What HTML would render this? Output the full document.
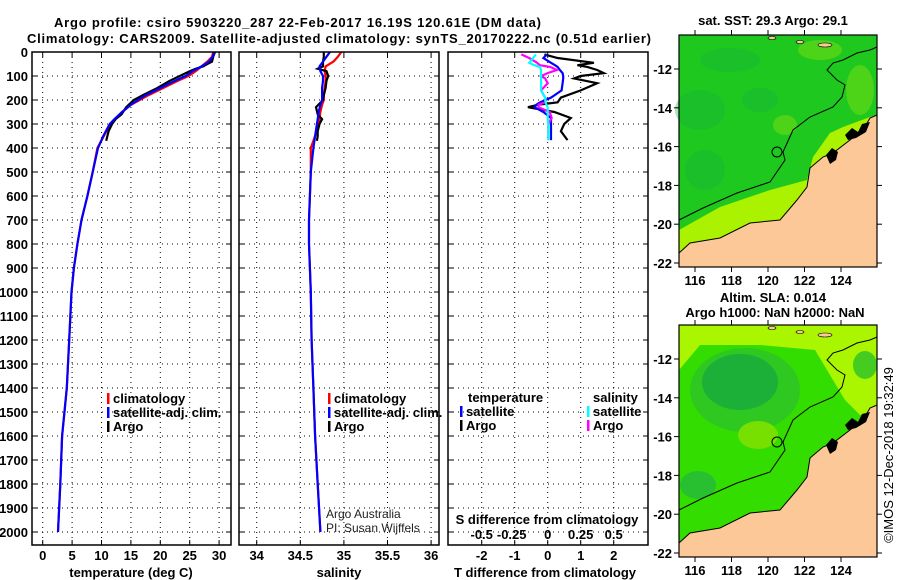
<!DOCTYPE html>
<html><head><meta charset="utf-8"><style>
html,body{margin:0;padding:0;background:#fff}
svg{display:block;font-family:"Liberation Sans",Arial,sans-serif}
.b{font-weight:bold;font-size:13px}
</style></head><body>
<svg id="c" width="900" height="580" viewBox="0 0 900 580">
<rect width="900" height="580" fill="#fff"/>
<text class="b" x="54" y="27" font-size="14" textLength="487">Argo profile: csiro 5903220_287 22-Feb-2017 16.19S 120.61E (DM data)</text>
<text class="b" x="27" y="43" font-size="14" textLength="624">Climatology: CARS2009. Satellite-adjusted climatology: synTS_20170222.nc (0.51d earlier)</text>
<g id="maps"></g>
<g id="panels"></g>
<text x="893" y="455" font-size="13" text-anchor="middle" transform="rotate(-90 893 455)">©IMOS 12-Dec-2018 19:32:49</text>
</svg>
<script>
// ---- data ----
var depthLevels=[0,20,40,60,80,100,120,150,180,200,220,250,280,300,350,400,500,600,700,800,900,1000,1200,1400,1600,1800,2000];
var tempSat=[29.2,28.9,28.3,27.0,25.5,24.3,22.5,20.0,17.5,16.2,15.0,13.5,12.2,11.4,10.3,9.4,8.5,7.6,6.6,5.9,5.3,4.9,4.5,4.1,3.3,3.0,2.6];
var tempClim=[29.0,28.8,28.0,27.0,26.0,24.8,23.0,20.5,18.0,16.5,15.0,13.5,12.3,11.5,10.4,9.3,8.5,7.6,6.6,5.9,5.3,4.9,4.5,4.1,3.3,3.0,2.6];
var salSat=[34.84,34.80,34.76,34.72,34.73,34.76,34.76,34.75,34.75,34.75,34.73,34.71,34.70,34.69,34.67,34.65,34.62,34.61,34.60,34.60,34.61,34.62,34.63,34.65,34.67,34.70,34.73];
var salClim=[34.97,34.93,34.88,34.79,34.78,34.79,34.79,34.78,34.77,34.77,34.75,34.73,34.72,34.71,34.67,34.62,34.62,34.61,34.60,34.60,34.61,34.62,34.63,34.65,34.67,34.70,34.73];
var argoDepth=[0,20,40,50,60,70,80,100,120,150,180,200,230,260,280,300,330,350,370];
var argoTemp=[29.3,29.0,28.8,28.0,27.3,26.0,25.0,23.3,21.6,19.5,17.0,15.5,14.2,13.4,12.4,11.8,11.2,11.0,10.8];
var argoSal=[34.77,34.77,34.76,34.76,34.76,34.70,34.80,34.82,34.80,34.79,34.77,34.76,34.68,34.70,34.75,34.72,34.70,34.70,34.69];
var dDepth=[10,25,45,55,62,75,88,100,110,130,160,190,210,220,230,250,275,300,330,367];
var dTArgo=[-0.1,0.3,1.4,0.9,1.2,1.5,1.7,1.0,0.8,1.5,1.0,0.4,0.3,-0.3,-0.6,0.2,0.7,0.5,0.4,0.6];
var dTSat=[-0.02,-0.13,0.1,0.22,0.3,0.37,0.45,0.47,0.47,0.45,0.42,0.1,-0.23,-0.35,-0.4,-0.13,0.1,0.1,0.1,0.1];
var dSArgo=[-0.2,-0.14,-0.08,-0.06,0.02,0.07,0.0,-0.05,-0.02,0.0,-0.05,-0.02,-0.02,-0.07,-0.07,0.015,0.03,0.005,0.005,0.005];
var dSSat=[-0.09,-0.11,-0.14,-0.1,-0.06,-0.05,-0.05,-0.05,-0.05,-0.05,-0.05,-0.02,-0.015,-0.01,0,0,0,0.005,0.005,0.005];
var depthTicks=[0,100,200,300,400,500,600,700,800,900,1000,1100,1200,1300,1400,1500,1600,1700,1800,1900,2000];
var tempTicks=[0,5,10,15,20,25,30];
var salTicks=[34,34.5,35,35.5,36];
var dTTicks=[-2,-1,0,1,2];
var dSTickLabels=["-0.5","-0.25","0","0.25","0.5"];
var dSTickVals=[-0.5,-0.25,0,0.25,0.5];
var latTicks=[-12,-14,-16,-18,-20,-22];
var lonTicks=[116,118,120,122,124];

var NS='http://www.w3.org/2000/svg';
function mk(p,tag,at,txt){var e=document.createElementNS(NS,tag);for(var k in at)e.setAttribute(k,at[k]);if(txt!=null)e.textContent=txt;p.appendChild(e);return e;}
var P=document.getElementById('panels'),M=document.getElementById('maps');
var yD=function(d){return 52+d*0.24;};
var xT=function(t){return 42.7+t*5.88;};
var xS=function(s){return 256.7+(s-34)*87.2;};
var xDT=function(t){return 547.7+t*33;};
var xDS=function(s){return 547.7+s*132;};

function box(x0,x1,name){
  var g=mk(P,'g',{});
  
  
  depthTicks.forEach(function(d){var y=yD(d);
    var l=mk(g,'line',{x1:x0,x2:x1,y1:y,y2:y,stroke:'#000','stroke-dasharray':'1 4','stroke-width':1});
    
    mk(g,'line',{x1:x0,x2:x0+5,y1:y,y2:y,stroke:'#000'});mk(g,'line',{x1:x1-5,x2:x1,y1:y,y2:y,stroke:'#000'});
  });
  return g;
}
function vgrid(g,xs){xs.forEach(function(x){
  var l=mk(g,'line',{x1:x,x2:x,y1:52,y2:545,stroke:'#000','stroke-dasharray':'1 4'});
  
  mk(g,'line',{x1:x,x2:x,y1:545,y2:540,stroke:'#000'});mk(g,'line',{x1:x,x2:x,y1:52,y2:57,stroke:'#000'});});}
function frame(g,x0,x1){var r=mk(g,'rect',{x:x0,y:52,width:x1-x0,height:493,fill:'none',stroke:'#000','stroke-width':1.5});
  }
function line(g,xs,ds,col,fx,name,w){
  var pts=xs.map(function(v,i){return fx(v).toFixed(1)+','+yD(ds[i]).toFixed(1);}).join(' ');
  var l=mk(g,'polyline',{points:pts,fill:'none',stroke:col,'stroke-width':w||2.2,'stroke-linejoin':'miter'});
  
}
function txt(g,x,y,s,name,at){var a={x:x,y:y,'font-size':13,'font-weight':'bold'};for(var k in at)a[k]=at[k];
  var t=mk(g,'text',a,s);return t;}
function leg(g,x,y,col,s,name){mk(g,'rect',{x:x,y:y-10,width:2.5,height:11,fill:col});
  txt(g,x+6,y,s,name);}

// panel 1 temperature
var g1=box(32,231,'temperature-panel');
vgrid(g1,tempTicks.map(xT));
line(g1,tempClim,depthLevels,'#f00',xT,'temp-climatology-line');
line(g1,argoTemp,argoDepth,'#000',xT,'temp-argo-line');
line(g1,tempSat,depthLevels,'#00f',xT,'temp-satellite-line');
frame(g1,32,231);
depthTicks.forEach(function(d){txt(g1,28,yD(d)+5,String(d),'depth-tick-label',{'text-anchor':'end'});});
tempTicks.forEach(function(t){txt(g1,xT(t),560,String(t),'temp-tick-label',{'text-anchor':'middle'});});
txt(g1,131,577,'temperature (deg C)','temp-axis-title',{'text-anchor':'middle'});
leg(g1,107,403,'#f00','climatology','legend-climatology');
leg(g1,107,417,'#00f','satellite-adj. clim.','legend-satellite');
leg(g1,107,431,'#000','Argo','legend-argo');

// panel 2 salinity
var g2=box(239,439,'salinity-panel');
vgrid(g2,salTicks.map(xS));
line(g2,salClim,depthLevels,'#f00',xS,'sal-climatology-line');
line(g2,argoSal,argoDepth,'#000',xS,'sal-argo-line');
line(g2,salSat,depthLevels,'#00f',xS,'sal-satellite-line');
frame(g2,239,439);
salTicks.forEach(function(s){txt(g2,xS(s),560,String(s),'sal-tick-label',{'text-anchor':'middle'});});
txt(g2,339,577,'salinity','sal-axis-title',{'text-anchor':'middle'});
leg(g2,328,403,'#f00','climatology','legend-climatology');
leg(g2,328,417,'#00f','satellite-adj. clim.','legend-satellite');
leg(g2,328,431,'#000','Argo','legend-argo');
txt(g2,326,518,'Argo Australia','credit-line-1',{'font-weight':'normal','font-size':12,fill:'#222'});
txt(g2,326,532,'PI: Susan Wijffels','credit-line-2',{'font-weight':'normal','font-size':12,fill:'#222'});

// panel 3 differences
var g3=box(448,648,'difference-panel');
vgrid(g3,dTTicks.map(xDT));
line(g3,dTArgo,dDepth,'#000',xDT,'dT-argo-line');
line(g3,dTSat,dDepth,'#00f',xDT,'dT-satellite-line');
line(g3,dSArgo,dDepth,'#f0f',xDS,'dS-argo-line');
line(g3,dSSat,dDepth,'#0ff',xDS,'dS-satellite-line');
frame(g3,448,648);
dTTicks.forEach(function(t){txt(g3,xDT(t),560,String(t),'dT-tick-label',{'text-anchor':'middle'});});
dSTickVals.forEach(function(s,i){txt(g3,xDS(s)+(i==1?-3:0),539,dSTickLabels[i],'dS-tick-label',{'text-anchor':'middle'});});
txt(g3,547,524,'S difference from climatology','dS-axis-title',{'text-anchor':'middle'});
txt(g3,545,577,'T difference from climatology','dT-axis-title',{'text-anchor':'middle'});
txt(g3,468,402,'temperature','legend-temp-header');
leg(g3,460,416,'#00f','satellite','legend-temp-satellite');
leg(g3,460,430,'#000','Argo','legend-temp-argo');
txt(g3,593,402,'salinity','legend-sal-header');
leg(g3,587,416,'#0ff','satellite','legend-sal-satellite');
leg(g3,587,430,'#f0f','Argo','legend-sal-argo');

// maps
var coast='679,253 690,243 720,238 750,223 780,220 797,200 807,187 810,168 823,157 833,153 850,140 863,130 870,118 877,115 877,267 679,267';
var band='679,230 720,207 770,190 807,180 813,157 830,133 843,127 870,117 877,115 877,267 679,267';
var isob='679,220 703,208 737,193 770,182 785,160 783,152 793,130 810,117 833,107 842,97 845,85 837,80 827,70 833,63 843,60 857,53 870,50 877,47';
var xL=function(lon){return 695+(lon-116)*18.25;};
var yL=function(lat,off){return 69+(-12-lat)*19.4+off;};
function map(off,name,base,kind){
  var g=mk(M,'g',{});
  var gg=mk(g,'g',{transform:'translate(0,'+off+')'});
  mk(gg,'rect',{x:679,y:35,width:198,height:232,fill:base});
  if(kind==1){
    [[700,110,25,20],[705,170,20,20],[730,60,30,12],[760,100,18,12]].forEach(function(e){mk(gg,'ellipse',{cx:e[0],cy:e[1],rx:e[2],ry:e[3],fill:'#18b040',opacity:0.35});});
    [[785,125,12,10],[820,50,22,10],[860,90,14,25]].forEach(function(e){mk(gg,'ellipse',{cx:e[0],cy:e[1],rx:e[2],ry:e[3],fill:'#88e010',opacity:0.45});});
    mk(gg,'polygon',{points:band,fill:'#aaf200'});
  } else {
    mk(gg,'polygon',{points:'679,35 877,35 877,130 860,125 845,110 830,85 815,60 760,55 700,55 679,80',fill:'#aaf500'});
    mk(gg,'ellipse',{cx:745,cy:100,rx:55,ry:42,fill:'#2ec820'});
    mk(gg,'ellipse',{cx:740,cy:92,rx:38,ry:28,fill:'#1cb038'});
    mk(gg,'ellipse',{cx:758,cy:145,rx:20,ry:14,fill:'#77e000'});
    mk(gg,'ellipse',{cx:865,cy:75,rx:12,ry:14,fill:'#44cc20'});
    mk(gg,'ellipse',{cx:698,cy:195,rx:18,ry:14,fill:'#28c030'});
  }
  mk(gg,'polygon',{points:coast,fill:'#fcc898',stroke:'#000','stroke-width':1});
  mk(gg,'polyline',{points:isob,fill:'none',stroke:'#000','stroke-width':1});
  mk(gg,'circle',{cx:777,cy:152,r:5,fill:'none',stroke:'#000','stroke-width':1});
  mk(gg,'polygon',{points:'845,135 852,128 858,132 862,124 870,122 866,132 856,138 848,140',fill:'#000'});
  mk(gg,'polygon',{points:'826,155 832,148 838,152 836,160 830,164',fill:'#000'});
  mk(gg,'ellipse',{cx:772,cy:38,rx:4,ry:1.5,fill:'#fcc898',stroke:'#000','stroke-width':0.6});
  mk(gg,'ellipse',{cx:800,cy:42,rx:4,ry:1.5,fill:'#fcc898',stroke:'#000','stroke-width':0.6});
  mk(gg,'ellipse',{cx:825,cy:45,rx:7,ry:2,fill:'#fcc898',stroke:'#000','stroke-width':0.6});
  mk(g,'rect',{x:679,y:35+off,width:198,height:232,fill:'none',stroke:'#000','stroke-width':1.2});
  latTicks.forEach(function(l){var y=yL(l,off);mk(g,'line',{x1:674,x2:679,y1:y,y2:y,stroke:'#000'});mk(g,'line',{x1:877,x2:882,y1:y,y2:y,stroke:'#000'});
    txt(g,672,y+5,String(l),'lat-tick-label',{'text-anchor':'end'});});
  lonTicks.forEach(function(l){var x=xL(l);mk(g,'line',{x1:x,x2:x,y1:30+off,y2:35+off,stroke:'#000'});mk(g,'line',{x1:x,x2:x,y1:267+off,y2:272+off,stroke:'#000'});
    txt(g,x,285+off,String(l),'lon-tick-label',{'text-anchor':'middle'});});
}
map(0,'sst-map','#1ec81e',1);
map(290,'sla-map','#33dd00',2);
txt(M,773,25,'sat. SST: 29.3 Argo: 29.1','sst-map-title',{'text-anchor':'middle'});
txt(M,773,302,'Altim. SLA: 0.014','sla-map-title',{'text-anchor':'middle'});
txt(M,775,317,'Argo h1000: NaN h2000: NaN','sla-map-subtitle',{'text-anchor':'middle'});
</script>
</body></html>
